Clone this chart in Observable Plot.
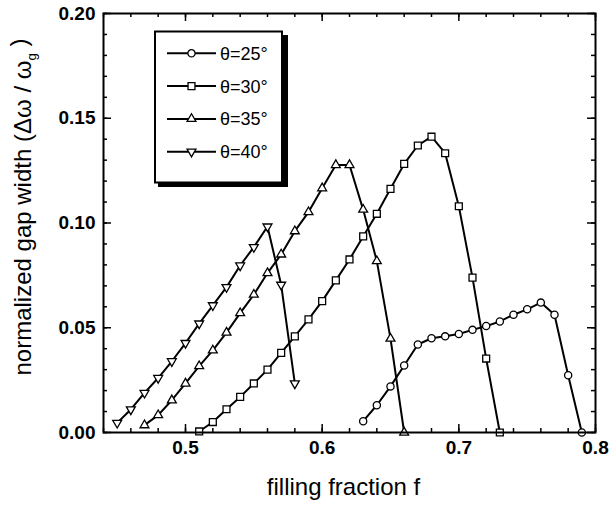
<!DOCTYPE html>
<html><head><meta charset="utf-8">
<script src="https://cdn.jsdelivr.net/npm/d3@7"></script>
<script src="https://cdn.jsdelivr.net/npm/@observablehq/plot@0.6"></script>
<style>
body{margin:0;background:#fff;}
#wrap{position:relative;width:612px;height:508px;overflow:hidden;}
#wrap svg.legend{position:absolute;left:0;top:0;pointer-events:none;}
</style></head><body><div id="wrap"></div>
<script>
// ---- data (filling fraction f, normalized gap width) ----
const f25 = [0.63,0.64,0.65,0.66,0.67,0.68,0.69,0.70,0.71,0.72,0.73,0.74,0.75,0.76,0.77,0.78,0.79];
const g25 = [0.0054,0.013,0.022,0.032,0.042,0.045,0.0459,0.047,0.049,0.0508,0.053,0.0562,0.0588,0.062,0.0562,0.0273,0.0];
const f30 = [0.51,0.52,0.53,0.54,0.55,0.56,0.57,0.58,0.59,0.60,0.61,0.62,0.63,0.64,0.65,0.66,0.67,0.68,0.69,0.70,0.71,0.72,0.73];
const g30 = [0.0005,0.005,0.0111,0.017,0.0234,0.030,0.038,0.0459,0.054,0.0627,0.0726,0.0826,0.0936,0.1044,0.1163,0.1282,0.137,0.1412,0.1333,0.108,0.0739,0.0353,0.0];
const f35 = [0.47,0.48,0.49,0.50,0.51,0.52,0.53,0.54,0.55,0.56,0.57,0.58,0.59,0.60,0.61,0.62,0.63,0.64,0.65,0.66];
const g35 = [0.0035,0.0083,0.0154,0.0234,0.0317,0.0392,0.0477,0.057,0.0658,0.0761,0.085,0.0961,0.1052,0.1166,0.1277,0.1277,0.1064,0.0818,0.0448,0.0];
const f40 = [0.45,0.46,0.47,0.48,0.49,0.50,0.51,0.52,0.53,0.54,0.55,0.56,0.57,0.58];
const g40 = [0.0046,0.011,0.0189,0.026,0.034,0.0427,0.052,0.0607,0.0694,0.0797,0.0885,0.0983,0.0705,0.0234];

const seriesNames = ["θ=25°","θ=30°","θ=35°","θ=40°"];
const xTickLabels = [0.5,0.6,0.7,0.8];
const yTickLabels = [0.00,0.05,0.10,0.15,0.20];
const xMinorTicks = [0.44,0.46,0.48,0.50,0.52,0.54,0.56,0.58,0.60,0.62,0.64,0.66,0.68,0.70,0.72,0.74,0.76,0.78,0.80];
const yMinorTicks = [0,0.01,0.02,0.03,0.04,0.05,0.06,0.07,0.08,0.09,0.10,0.11,0.12,0.13,0.14,0.15,0.16,0.17,0.18,0.19,0.20];
const xLabel = "filling fraction f";
const yLabel = "normalized gap width (Δω / ω";

// ---- build ----
const toRows = (fs, gs, s) => fs.map((f, i) => ({f, g: gs[i], s}));
const d25 = toRows(f25, g25, seriesNames[0]);
const d30 = toRows(f30, g30, seriesNames[1]);
const d35 = toRows(f35, g35, seriesNames[2]);
const d40 = toRows(f40, g40, seriesNames[3]);

const triangleDown = {draw(ctx, size) {
  const y = Math.sqrt(size / (Math.sqrt(3) * 3));
  ctx.moveTo(0, 2 * y);
  ctx.lineTo(-Math.sqrt(3) * y, -y);
  ctx.lineTo(Math.sqrt(3) * y, -y);
  ctx.closePath();
}};
const triangleUp = d3.symbolTriangle;

const W = 612, H = 508, mL = 103, mR = 17, mT = 13, mB = 76;
const plotW = W - mL - mR, plotH = H - mT - mB;
const FONT = "'Liberation Sans', Arial, Helvetica, sans-serif";
const lineOpts = {x: "f", y: "g", stroke: "black", strokeWidth: 2};
const dotOpts = {x: "f", y: "g", fill: "white", stroke: "black", strokeWidth: 1.3};

const chart = Plot.plot({
  width: W, height: H,
  marginLeft: mL, marginRight: mR, marginTop: mT, marginBottom: mB,
  style: {fontFamily: FONT, background: "white", color: "black", overflow: "visible"},
  x: {domain: [0.44, 0.80]},
  y: {domain: [0, 0.20]},
  marks: [
    // inward ticks: minor
    Plot.ruleX(xMinorTicks, {x: d => d, insetTop: plotH - 4, stroke: "black", strokeWidth: 1.5}),
    Plot.ruleX(xMinorTicks, {x: d => d, insetBottom: plotH - 4, stroke: "black", strokeWidth: 1.5}),
    Plot.ruleY(yMinorTicks, {y: d => d, insetRight: plotW - 4, stroke: "black", strokeWidth: 1.5}),
    Plot.ruleY(yMinorTicks, {y: d => d, insetLeft: plotW - 4, stroke: "black", strokeWidth: 1.5}),
    // inward ticks: major
    Plot.ruleX(xTickLabels, {x: d => d, insetTop: plotH - 8, stroke: "black", strokeWidth: 1.5}),
    Plot.ruleX(xTickLabels, {x: d => d, insetBottom: plotH - 8, stroke: "black", strokeWidth: 1.5}),
    Plot.ruleY(yTickLabels, {y: d => d, insetRight: plotW - 8, stroke: "black", strokeWidth: 1.5}),
    Plot.ruleY(yTickLabels, {y: d => d, insetLeft: plotW - 8, stroke: "black", strokeWidth: 1.5}),
    Plot.axisX({ticks: xTickLabels, tickSize: 0, tickPadding: 8, tickFormat: d3.format(".1f"),
      fontSize: 19, fontWeight: "bold", label: null}),
    Plot.axisY({ticks: yTickLabels, tickSize: 0, tickPadding: 8, tickFormat: d3.format(".2f"),
      fontSize: 19, fontWeight: "bold", label: null}),
    Plot.text([xLabel], {frameAnchor: "bottom", dx: -6, dy: 62, fontSize: 24, fill: "black"}),
    Plot.text([yLabel], {frameAnchor: "left", textAnchor: "middle", dx: -80, dy: -16, rotate: -90, fontSize: 24, fill: "black"}),
    Plot.line(d25, lineOpts),
    Plot.line(d30, lineOpts),
    Plot.line(d35, lineOpts),
    Plot.line(d40, lineOpts),
    Plot.dot(d25, {...dotOpts, symbol: "circle", r: 3.6}),
    Plot.dot(d30, {...dotOpts, symbol: "square", r: 3.9}),
    Plot.dot(d35, {...dotOpts, symbol: triangleUp, r: 3.3}),
    Plot.dot(d40, {...dotOpts, symbol: triangleDown, r: 3.3}),
    Plot.frame({stroke: "black", strokeWidth: 2})
  ]
});

// subscript g on the y label
d3.select(chart).selectAll("text").each(function() {
  if (this.textContent === yLabel) {
    const t = d3.select(this);
    t.append("tspan").attr("dy", "0.4em").attr("font-size", "0.55em").text("g");
    t.append("tspan").attr("dy", "-0.4em").text(" )");
  }
});

const wrap = document.getElementById("wrap");
wrap.appendChild(chart);

// ---- legend ----
const legendSymbols = [d3.symbolCircle, d3.symbolSquare, triangleUp, triangleDown];
const legendR = [3.6, 3.9, 3.3, 3.3];
const lg = d3.select(wrap).append("svg").attr("class", "legend").attr("width", W).attr("height", H)
  .style("font-family", FONT);
lg.append("rect").attr("x", 158).attr("y", 35).attr("width", 130).attr("height", 152).attr("fill", "black");
lg.append("rect").attr("x", 155).attr("y", 31.5).attr("width", 127).attr("height", 151)
  .attr("fill", "white").attr("stroke", "black").attr("stroke-width", 2);
seriesNames.forEach((name, i) => {
  const y = 53.3 + i * 32.8;
  lg.append("line").attr("x1", 167).attr("x2", 216).attr("y1", y).attr("y2", y)
    .attr("stroke", "black").attr("stroke-width", 2);
  lg.append("path").attr("transform", `translate(191.5,${y})`)
    .attr("d", d3.symbol(legendSymbols[i], Math.PI * legendR[i] * legendR[i])())
    .attr("fill", "white").attr("stroke", "black").attr("stroke-width", 1.3);
  lg.append("text").attr("x", 220).attr("y", y + 6.5).attr("font-size", 18).text(name);
});
</script></body></html>
